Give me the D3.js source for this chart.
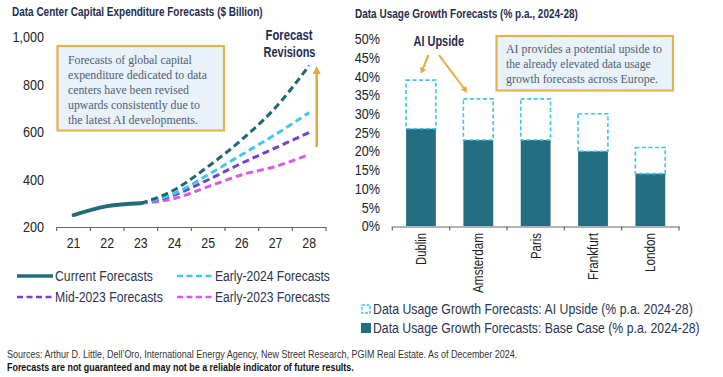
<!DOCTYPE html>
<html><head><meta charset="utf-8">
<script src="https://cdn.jsdelivr.net/npm/d3@7"></script>
<style>
html,body{margin:0;padding:0;background:#fff;}
svg{display:block;font-family:"Liberation Sans",Arial,sans-serif;}
</style></head>
<body>
<svg id="chart" width="723" height="377"></svg>
<script>
// ---- Left chart data ----
const years = ["21","22","23","24","25","26","27","28"];
const capexTicks = [200,400,600,800,1000];
const currentForecasts = [250,288,300];                       // 21-23
const early2025Forecasts = [300,357,455,568,703,880];         // 23-28 (dark teal)
const early2024Forecasts = [300,342,420,505,590,682];         // 23-28
const mid2023Forecasts   = [300,335,399,469,533,598];         // 23-28
const early2023Forecasts = [300,320,370,420,455,505];         // 23-28

// ---- Right chart data ----
const cities = ["Dublin","Amsterdam","Paris","Frankfurt","London"];
const baseCase = [26,23,23,20,14];
const aiUpside = [13,11,11,10,7];
const pctTicks = [0,5,10,15,20,25,30,35,40,45,50];

const svg = d3.select("#chart");
const navy = "#1f2d50", txt = "#222", gold = "#e3ab3d";

svg.append("defs").append("marker")
  .attr("id","arrowGold").attr("viewBox","0 0 10 10").attr("refX",5).attr("refY",5)
  .attr("markerWidth",3.2).attr("markerHeight",3.2).attr("orient","auto-start-reverse")
  .append("path").attr("d","M0,0 L10,5 L0,10 Z").attr("fill",gold);

// place text at (x,y) and scale horizontally so that it is `len` wide
function placeText(parent, s, x, y, len, attrs, rot){
  const t = parent.append("text").attr("x",0).attr("y",0).text(s);
  Object.entries(attrs||{}).forEach(([k,v])=>t.attr(k,v));
  const w = t.node().getComputedTextLength();
  const sx = len ? len/w : 1;
  t.attr("transform",`translate(${x},${y})${rot?` rotate(${rot})`:""} scale(${sx},1)`);
  return t;
}

// ================= LEFT CHART =================
placeText(svg,"Data Center Capital Expenditure Forecasts ($ Billion)",12,16,251,
  {"font-size":13,"font-weight":"bold","fill":navy});

const xL = d3.scaleBand().domain(years).range([56.7,326]);
const yL = d3.scaleLinear().domain([200,1000]).range([227,37]);

// x axis
const axL = svg.append("g").attr("transform","translate(0,227)")
  .call(d3.axisBottom(xL).tickSize(0).tickFormat(""));
axL.select(".domain").attr("stroke","#666").attr("stroke-width",1.2);
axL.selectAll(".tick").remove();
years.forEach(y=>{
  placeText(svg,y,xL(y)+xL.bandwidth()/2,248,null,{"font-size":14,"fill":txt,"text-anchor":"middle"})
    .attr("transform",`translate(${xL(y)+xL.bandwidth()/2},248) scale(0.88,1)`);
});
const bL = years.map(y=>xL(y)).concat([xL.range()[1]]);
svg.append("g").selectAll("line").data(bL).join("line")
  .attr("x1",d=>d).attr("x2",d=>d).attr("y1",227).attr("y2",231).attr("stroke","#666").attr("stroke-width",1.2);

// y labels
capexTicks.forEach(v=>{
  svg.append("text").attr("text-anchor","end").attr("dy","0.35em").attr("font-size",15).attr("fill",txt)
    .attr("transform",`translate(44,${yL(v)}) scale(0.84,1)`).text(d3.format(",")(v));
});

const cx = d => xL(d)+xL.bandwidth()/2;
const lineGen = d3.line().x(d=>cx(d[0])).y(d=>yL(d[1])).curve(d3.curveMonotoneX);
const fYears = years.slice(2);
const series = [
  {vals:early2023Forecasts, color:"#d45ce6"},
  {vals:mid2023Forecasts,   color:"#7a3ecf"},
  {vals:early2024Forecasts, color:"#3fc8ec"},
  {vals:early2025Forecasts, color:"#1e6670"}
];
series.forEach(s=>{
  svg.append("path").datum(fYears.map((y,i)=>[y,s.vals[i]])).attr("d",lineGen)
    .attr("fill","none").attr("stroke",s.color).attr("stroke-width",3).attr("stroke-dasharray","7,4");
});
svg.append("path").datum(years.slice(0,3).map((y,i)=>[y,currentForecasts[i]])).attr("d",lineGen)
  .attr("fill","none").attr("stroke","#226b78").attr("stroke-width",3.8).attr("stroke-linecap","round");

// annotation box left
svg.append("rect").attr("x",57.5).attr("y",46).attr("width",166.5).attr("height",84.5)
  .attr("fill","#e9f1f9").attr("stroke","#e0b455").attr("stroke-width",2.2);
const annL = ["Forecasts of global capital","expenditure dedicated to data","centers have been revised","upwards consistently due to","the latest AI developments."];
const annLW = [124,139,121,132,130];
annL.forEach((s,i)=>placeText(svg,s,68,63.5+i*15,annLW[i],
  {"font-size":13,"font-family":"Liberation Serif, DejaVu Serif, serif","fill":"#4e5e74"}));

// Forecast Revisions label + arrow
placeText(svg,"Forecast",265.5,40,47,{"font-size":15.5,"font-weight":"bold","fill":navy});
placeText(svg,"Revisions",263.5,57,52,{"font-size":15.5,"font-weight":"bold","fill":navy});
svg.append("line").attr("x1",316.7).attr("x2",316.7).attr("y1",147).attr("y2",70)
  .attr("stroke",gold).attr("stroke-width",2.5).attr("marker-end","url(#arrowGold)");

// legend left
const legL = [
  {label:"Current Forecasts", color:"#226b78", dash:null, x:17, y:276, w:98},
  {label:"Early-2024 Forecasts", color:"#3fc8ec", dash:"7,4", x:177, y:276, w:115},
  {label:"Mid-2023 Forecasts", color:"#7a3ecf", dash:"7,4", x:17, y:297, w:108},
  {label:"Early-2023 Forecasts", color:"#d45ce6", dash:"7,4", x:177, y:297, w:115}
];
legL.forEach(l=>{
  const ln = svg.append("line").attr("x1",l.x).attr("x2",l.x+36).attr("y1",l.y).attr("y2",l.y)
    .attr("stroke",l.color).attr("stroke-width",l.dash?2.5:3.5);
  if(l.dash) ln.attr("stroke-dasharray","6,3.5");
  placeText(svg,l.label,l.x+38,l.y,l.w,{"dy":"0.35em","font-size":14.5,"fill":"#2a3550"});
});

// ================= RIGHT CHART =================
placeText(svg,"Data Usage Growth Forecasts (% p.a., 2024-28)",355,18,223,
  {"font-size":13,"font-weight":"bold","fill":navy});

const xR = d3.scaleBand().domain(cities).range([392.3,679]).paddingInner(0.48).paddingOuter(0.24);
const yR = d3.scaleLinear().domain([0,50]).range([226,39]);

const axR = svg.append("g").attr("transform","translate(0,226.5)")
  .call(d3.axisBottom(xR).tickSize(0).tickFormat(""));
axR.select(".domain").attr("stroke","#666").attr("stroke-width",1.2);
axR.selectAll(".tick").remove();
const stepR = (679-392.3)/cities.length;
svg.append("g").selectAll("line").data(d3.range(cities.length+1)).join("line")
  .attr("x1",i=>392.3+i*stepR).attr("x2",i=>392.3+i*stepR).attr("y1",226.5).attr("y2",230.5)
  .attr("stroke","#666").attr("stroke-width",1.2);

pctTicks.forEach(v=>{
  svg.append("text").attr("text-anchor","end").attr("dy","0.35em").attr("font-size",15).attr("fill",txt)
    .attr("transform",`translate(380,${yR(v)}) scale(0.84,1)`).text(v+"%");
});

// city labels rotated
const cityW = [32,60,26,47,39];
cities.forEach((c,i)=>{
  placeText(svg,c,xR(c)+xR.bandwidth()/2,233,cityW[i],
    {"dy":"0.35em","text-anchor":"end","font-size":14,"fill":txt},-90);
});

// bars
svg.append("g").selectAll("rect").data(cities).join("rect")
  .attr("x",d=>xR(d)).attr("width",xR.bandwidth())
  .attr("y",(d,i)=>yR(baseCase[i])).attr("height",(d,i)=>yR(0)-yR(baseCase[i]))
  .attr("fill","#236e80");
svg.append("g").selectAll("rect").data(cities).join("rect")
  .attr("x",d=>xR(d)).attr("width",xR.bandwidth())
  .attr("y",(d,i)=>yR(baseCase[i]+aiUpside[i])).attr("height",(d,i)=>yR(baseCase[i])-yR(baseCase[i]+aiUpside[i]))
  .attr("fill","none").attr("stroke","#3ec3ea").attr("stroke-width",1.6).attr("stroke-dasharray","4,2.5");

// AI Upside label & arrows
placeText(svg,"AI Upside",413.5,46,50.5,{"font-size":15,"font-weight":"bold","fill":navy});
svg.append("line").attr("x1",428.5).attr("y1",55).attr("x2",422).attr("y2",71)
  .attr("stroke",gold).attr("stroke-width",2).attr("marker-end","url(#arrowGold)");
svg.append("line").attr("x1",439).attr("y1",55).attr("x2",465.5).attr("y2",90.5)
  .attr("stroke",gold).attr("stroke-width",2).attr("marker-end","url(#arrowGold)");

// annotation box right
svg.append("rect").attr("x",496.5).attr("y",36).attr("width",176.5).attr("height",54.5)
  .attr("fill","#e9f1f9").attr("stroke","#e0b455").attr("stroke-width",2.2);
const annR = ["AI provides a potential upside to","the already elevated data usage","growth forecasts across Europe."];
const annRW = [156,145,152];
annR.forEach((s,i)=>placeText(svg,s,506,52.5+i*15,annRW[i],
  {"font-size":13,"font-family":"Liberation Serif, DejaVu Serif, serif","fill":"#4e5e74"}));

// legend right
svg.append("rect").attr("x",362).attr("y",305).attr("width",8).attr("height",8)
  .attr("fill","none").attr("stroke","#3ec3ea").attr("stroke-width",1.5).attr("stroke-dasharray","3,1.5");
placeText(svg,"Data Usage Growth Forecasts: AI Upside (% p.a. 2024-28)",373,309,320,
  {"dy":"0.35em","font-size":14.5,"fill":"#2a3550"});
svg.append("rect").attr("x",361).attr("y",323).attr("width",10).attr("height",10).attr("fill","#236e80");
placeText(svg,"Data Usage Growth Forecasts: Base Case (% p.a. 2024-28)",373,328,327,
  {"dy":"0.35em","font-size":14.5,"fill":"#2a3550"});

// ---- footnotes ----
placeText(svg,"Sources: Arthur D. Little, Dell’Oro, International Energy Agency, New Street Research, PGIM Real Estate. As of December 2024.",7,358,511,
  {"font-size":10.5,"fill":"#333"});
placeText(svg,"Forecasts are not guaranteed and may not be a reliable indicator of future results.",7,370.5,347,
  {"font-size":10.5,"font-weight":"bold","fill":"#111"});
</script>
</body></html>
